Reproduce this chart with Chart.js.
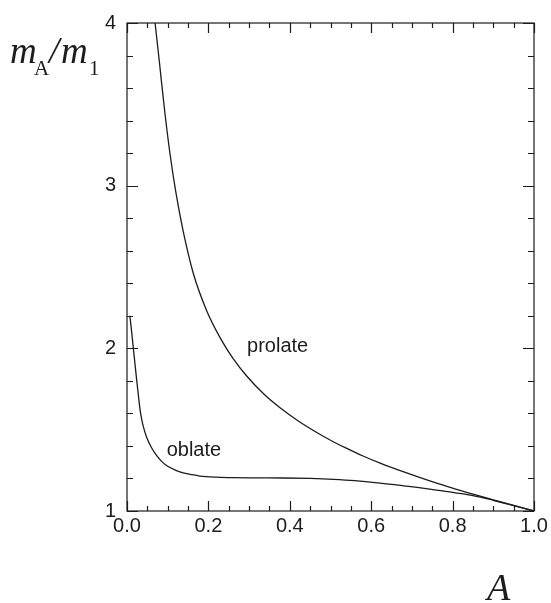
<!DOCTYPE html>
<html>
<head>
<meta charset="utf-8">
<script src="https://cdn.jsdelivr.net/npm/chart.js@4.4.1/dist/chart.umd.min.js"></script>
<style>
	html, body { margin: 0; padding: 0; background: #fff; }
	#mass_chart { display: block; }
</style>
</head>
<body>
<canvas id="mass_chart" width="551" height="603"></canvas>
<script>
// values
var prolateA = [0.069, 0.080, 0.093, 0.106, 0.120, 0.138, 0.163, 0.196, 0.23, 0.26, 0.294, 0.34, 0.376, 0.42, 0.458, 0.50, 0.54, 0.58, 0.622, 0.68, 0.744, 0.80, 0.85, 0.90, 0.95, 1.00];
var prolateM = [4.00, 3.75, 3.45, 3.19, 2.96, 2.72, 2.46, 2.23, 2.06, 1.94, 1.83, 1.71, 1.635, 1.555, 1.495, 1.435, 1.385, 1.338, 1.294, 1.24, 1.185, 1.14, 1.104, 1.069, 1.034, 1.00];

var oblateA = [0.007, 0.0115, 0.0156, 0.020, 0.024, 0.028, 0.032, 0.036, 0.040, 0.048, 0.060, 0.073, 0.085, 0.098, 0.12, 0.138, 0.16, 0.179, 0.22, 0.261, 0.32, 0.384, 0.45, 0.507, 0.56, 0.622, 0.68, 0.744, 0.80, 0.85, 0.90, 0.95, 1.00];
var oblateM = [2.20, 2.10, 2.00, 1.895, 1.80, 1.71, 1.625, 1.565, 1.52, 1.455, 1.39, 1.34, 1.305, 1.278, 1.25, 1.235, 1.223, 1.215, 1.208, 1.205, 1.204, 1.203, 1.200, 1.195, 1.187, 1.172, 1.155, 1.135, 1.114, 1.095, 1.066, 1.033, 1.00];

var xMajorTicks = [0.0, 0.2, 0.4, 0.6, 0.8, 1.0];
var xMinorTicks = [0.05, 0.1, 0.15, 0.25, 0.3, 0.35, 0.45, 0.5, 0.55, 0.65, 0.7, 0.75, 0.85, 0.9, 0.95];
var yMajorTicks = [1, 2, 3, 4];
var yMinorTicks = [1.2, 1.4, 1.6, 1.8, 2.2, 2.4, 2.6, 2.8, 3.2, 3.4, 3.6, 3.8];

var curveLabels = [
	{ text: "prolate", x: 0.295, y: 1.978 },
	{ text: "oblate", x: 0.0975, y: 1.34 }
];

var ink = '#1c1c1c';

function toPoints(xs, ys) {
	var pts = [];
	for (var i = 0; i < xs.length; i++) {
		pts.push({ x: xs[i], y: ys[i] });
	}
	return pts;
}

// frame, inward ticks, curve names and axis titles
var decorPlugin = {
	id: 'decor',
	afterDraw: function(chart) {
		var c = chart.ctx;
		var a = chart.chartArea;
		var xs = chart.scales.x;
		var ys = chart.scales.y;

		c.save();
		c.strokeStyle = ink;
		c.lineWidth = 1.2;
		c.strokeRect(a.left, a.top, a.right - a.left, a.bottom - a.top);

		c.beginPath();
		function xTick(v, len) {
			var px = Math.round(xs.getPixelForValue(v)) + 0.5;
			c.moveTo(px, a.bottom); c.lineTo(px, a.bottom - len);
			c.moveTo(px, a.top); c.lineTo(px, a.top + len);
		}
		function yTick(v, len) {
			var py = Math.round(ys.getPixelForValue(v)) + 0.5;
			c.moveTo(a.left, py); c.lineTo(a.left + len, py);
			c.moveTo(a.right, py); c.lineTo(a.right - len, py);
		}
		xMajorTicks.forEach(function(v) { xTick(v, 10); });
		xMinorTicks.forEach(function(v) { xTick(v, 5); });
		yMajorTicks.forEach(function(v) { yTick(v, 11); });
		yMinorTicks.forEach(function(v) { yTick(v, 6); });
		c.stroke();

		// curve names
		c.fillStyle = ink;
		c.font = '20px "Liberation Sans", Arial, sans-serif';
		c.textAlign = 'left';
		c.textBaseline = 'alphabetic';
		curveLabels.forEach(function(l) {
			c.fillText(l.text, xs.getPixelForValue(l.x), ys.getPixelForValue(l.y));
		});

		// y title m_A/m_1
		var big = 'italic 37px "Liberation Serif", "DejaVu Serif", serif';
		var small = '21px "Liberation Serif", "DejaVu Serif", serif';
		c.font = big;
		c.fillText('m', 10, 63);
		c.fillText('/', 49, 63);
		c.fillText('m', 61, 63);
		c.font = small;
		c.fillText('A', 34, 75);
		c.fillText('1', 89, 75);

		// x title
		c.font = 'italic 38px "Liberation Serif", "DejaVu Serif", serif';
		c.fillText('A', 487, 600);
		c.restore();
	}
};

window.onload = function() {
	var ctx = document.getElementById('mass_chart').getContext('2d');
	new Chart(ctx, {
		type: 'line',
		data: {
			datasets: [{
				label: 'prolate',
				data: toPoints(prolateA, prolateM),
				borderColor: ink,
				borderWidth: 1.3,
				pointRadius: 0,
				fill: false,
				cubicInterpolationMode: 'monotone'
			}, {
				label: 'oblate',
				data: toPoints(oblateA, oblateM),
				borderColor: ink,
				borderWidth: 1.3,
				pointRadius: 0,
				fill: false,
				cubicInterpolationMode: 'monotone'
			}]
		},
		options: {
			responsive: false,
			animation: false,
			devicePixelRatio: 1,
			layout: { padding: { left: 0, top: 17, right: 17, bottom: 0 } },
			plugins: {
				legend: { display: false },
				tooltip: { enabled: false }
			},
			scales: {
				x: {
					type: 'linear',
					min: 0,
					max: 1,
					grid: { display: false, drawTicks: false },
					border: { display: false },
					afterFit: function(scale) { scale.height = 92; },
					afterBuildTicks: function(scale) {
						scale.ticks = xMajorTicks.map(function(v) { return { value: v }; });
					},
					ticks: {
						padding: 3,
						color: ink,
						maxRotation: 0,
						font: { family: '"Liberation Sans", Arial, sans-serif', size: 20 },
						callback: function(v) { return v.toFixed(1); }
					}
				},
				y: {
					type: 'linear',
					min: 1,
					max: 4,
					grid: { display: false, drawTicks: false },
					border: { display: false },
					afterFit: function(scale) { scale.width = 127; },
					afterBuildTicks: function(scale) {
						scale.ticks = yMajorTicks.map(function(v) { return { value: v }; });
					},
					ticks: {
						padding: 11,
						color: ink,
						font: { family: '"Liberation Sans", Arial, sans-serif', size: 20 },
						callback: function(v) { return String(v); }
					}
				}
			}
		},
		plugins: [decorPlugin]
	});
};
</script>
</body>
</html>
